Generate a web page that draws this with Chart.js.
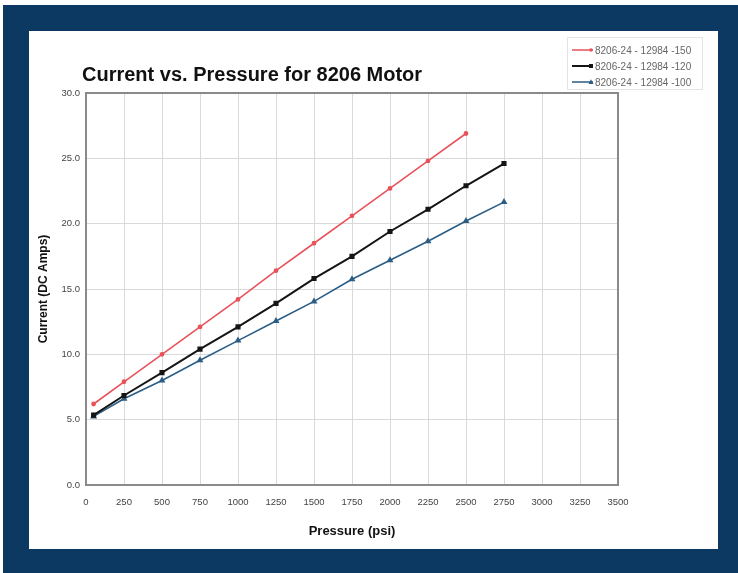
<!DOCTYPE html>
<html>
<head>
<meta charset="utf-8">
<script src="https://cdn.jsdelivr.net/npm/chart.js@4"></script>
<style>
  html, body { margin: 0; padding: 0; background: #fff; }
  #frame { position: absolute; left: 3px; top: 5px; width: 735px; height: 568px; background: #0b3962; }
  #panel { position: absolute; left: 29px; top: 31px; width: 689px; height: 518px; background: #fff; }
  #chart { position: absolute; left: 0; top: 0; }
  #legend {
    position: absolute; left: 538px; top: 6px; width: 136px; height: 53px;
    border: 1px solid #e4e4e4; font: 10px 'Liberation Sans', Arial, sans-serif; color: #666;
    box-sizing: border-box; padding-top: 4px; white-space: nowrap;
  }
  #legend .row { display: flex; align-items: center; height: 16px; padding-left: 4px; }
  #legend svg { margin-right: 1px; }
</style>
</head>
<body>
<div id="frame"></div>
<div id="panel">
  <canvas id="chart" width="689" height="518"></canvas>
  <div id="legend"></div>
</div>
<script>
// pressure (psi)
const pressure = [50, 250, 500, 750, 1000, 1250, 1500, 1750, 2000, 2250, 2500, 2750];

// current (DC Amps) per motor variant
const amps150 = [6.2, 7.9, 10.0, 12.1, 14.2, 16.4, 18.5, 20.6, 22.7, 24.8, 26.9];
const amps120 = [5.35, 6.85, 8.6, 10.4, 12.1, 13.9, 15.8, 17.5, 19.4, 21.1, 22.9, 24.6];
const amps100 = [5.25, 6.6, 8.0, 9.55, 11.05, 12.55, 14.05, 15.75, 17.2, 18.65, 20.2, 21.65];

const seriesNames = ['8206-24 - 12984 -150', '8206-24 - 12984 -120', '8206-24 - 12984 -100'];
const seriesColors = ['#e8525a', '#151515', '#2b5d85'];

const xTicks = [0, 250, 500, 750, 1000, 1250, 1500, 1750, 2000, 2250, 2500, 2750, 3000, 3250, 3500];

const FONT = "'Liberation Sans', Arial, sans-serif";

const toPoints = (vals) => vals.map((v, i) => ({ x: pressure[i], y: v }));

// frame + title drawn around the plot area
const framePlugin = {
    id: 'frame',
    afterDraw(chart) {
        const { ctx, chartArea: a } = chart;
        ctx.save();
        ctx.strokeStyle = '#8a8a8a';
        ctx.lineWidth = 2;
        ctx.strokeRect(a.left, a.top, a.right - a.left, a.bottom - a.top);
        ctx.fillStyle = '#111';
        ctx.font = 'bold 20px ' + FONT;
        ctx.textBaseline = 'middle';
        ctx.fillText('Current vs. Pressure for 8206 Motor', a.left - 4, a.top - 18);
        ctx.restore();
    }
};

new Chart(document.getElementById('chart'), {
    type: 'line',
    data: {
        datasets: [
            {
                label: seriesNames[0],
                data: toPoints(amps150),
                borderColor: seriesColors[0],
                backgroundColor: seriesColors[0],
                borderWidth: 1.6,
                pointStyle: 'circle',
                pointRadius: 1.6,
            },
            {
                label: seriesNames[1],
                data: toPoints(amps120),
                borderColor: seriesColors[1],
                backgroundColor: seriesColors[1],
                borderWidth: 2,
                pointStyle: 'rect',
                pointRadius: 2.2,
            },
            {
                label: seriesNames[2],
                data: toPoints(amps100),
                borderColor: seriesColors[2],
                backgroundColor: seriesColors[2],
                borderWidth: 1.6,
                pointStyle: 'triangle',
                pointRadius: 2.4,
            },
        ]
    },
    options: {
        responsive: false,
        animation: false,
        devicePixelRatio: 1,
        layout: { padding: { left: 7, right: 100, top: 62, bottom: 8 } },
        plugins: {
            legend: { display: false },
            tooltip: { enabled: false },
        },
        scales: {
            x: {
                type: 'linear',
                min: 0,
                max: 3500,
                afterBuildTicks: (s) => { s.ticks = xTicks.map(v => ({ value: v })); },
                afterFit: (s) => { s.height = 56; },
                grid: { color: '#d9d9d9', drawTicks: false },
                border: { color: '#8a8a8a', width: 2 },
                ticks: {
                    color: '#444',
                    font: { family: FONT, size: 9.5 },
                    padding: 12,
                    maxRotation: 0,
                    autoSkip: false,
                    callback: (v) => String(v),
                },
                title: {
                    display: true,
                    text: 'Pressure (psi)',
                    color: '#111',
                    font: { family: FONT, size: 13, weight: 'bold' },
                    padding: { top: 0, bottom: 2 },
                },
            },
            y: {
                min: 0,
                max: 30,
                afterFit: (s) => { s.width = 50; },
                grid: { color: '#d9d9d9', drawTicks: false },
                border: { color: '#8a8a8a', width: 2 },
                ticks: {
                    stepSize: 5,
                    color: '#444',
                    font: { family: FONT, size: 9.5 },
                    padding: 6,
                    callback: (v) => v.toFixed(1),
                },
                title: {
                    display: true,
                    text: 'Current (DC Amps)',
                    color: '#111',
                    font: { family: FONT, size: 12, weight: 'bold' },
                    padding: 0,
                },
            },
        },
    },
    plugins: [framePlugin],
});

// legend box (top right)
const markers = [
    '<circle cx="19" cy="4" r="1.8" />',
    '<rect x="17" y="2" width="4" height="4" />',
    '<polygon points="19,1.2 21.5,6 16.5,6" />',
];
document.getElementById('legend').innerHTML = seriesNames.map((name, i) =>
    `<div class="row"><svg width="22" height="8" fill="${seriesColors[i]}">` +
    `<line x1="0" y1="4" x2="21" y2="4" stroke="${seriesColors[i]}" stroke-width="${i === 1 ? 2 : 1.5}" />` +
    markers[i] + `</svg>${name}</div>`
).join('');
</script>
</body>
</html>
